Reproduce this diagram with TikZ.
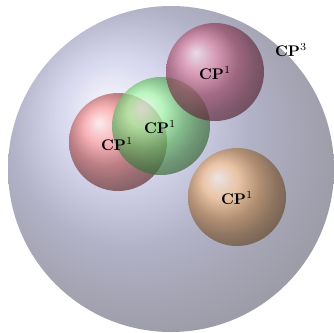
\documentclass[tikz,border=0pt]{standalone}
\usepackage{amsmath}
\usetikzlibrary{positioning}
\begin{document}
\begin{tikzpicture}[x=0.0228cm, y=-0.0228cm,
  sphere/.style={opacity=0.7},
  lbl/.style={inner sep=0pt}]
  \useasboundingbox (0,0) rectangle (334,332);
  % the ambient space
  \shade[ball color=blue!40!gray!60, opacity=0.5] (171,169) circle (163);
  % the lines
  \shade[ball color=red!50, sphere] (118,142) circle (49);
  \shade[ball color=orange!55, sphere] (237,197) circle (49);
  \shade[ball color=green!45, sphere] (161,126) circle (49);
  \shade[ball color=purple!60, sphere] (215,72) circle (49);
  % labels
  \node[lbl] (cpa) at (117,144) {$\mathbf{CP}^1$};
  \node[lbl] (cpb) at (160,127) {$\mathbf{CP}^1$};
  \node[lbl] (cpc) at (215,73) {$\mathbf{CP}^1$};
  \node[lbl] (cpd) at (237,198) {$\mathbf{CP}^1$};
  \node[lbl] (cpe) at (291,50) {$\mathbf{CP}^3$};
\end{tikzpicture}
\end{document}
